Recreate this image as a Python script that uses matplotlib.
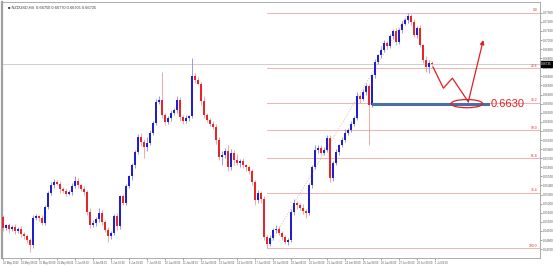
import numpy as np
import matplotlib
matplotlib.use("Agg")
import matplotlib.pyplot as plt
from matplotlib.patches import Ellipse

plt.rcParams['font.family'] = ['Liberation Sans', 'DejaVu Sans']

# H4 closes
first_open = 0.6505
closes = [
    0.6493, 0.6496, 0.6492, 0.6494, 0.6490, 0.6492, 0.6487, 0.6484, 0.6480, 0.6474, 0.6504, 0.6506,
    0.6504, 0.6499, 0.6516, 0.6532, 0.6540, 0.6544, 0.6542, 0.6536, 0.6534, 0.6531, 0.6533, 0.6539,
    0.6545, 0.6540, 0.6536, 0.6533, 0.6511, 0.6496, 0.6499, 0.6503, 0.6510, 0.6500, 0.6491, 0.6484,
    0.6488, 0.6506, 0.6495, 0.6528, 0.6521, 0.6539, 0.6550, 0.6562, 0.6577, 0.6593, 0.6588, 0.6582,
    0.6587, 0.6598, 0.6609, 0.6632, 0.6634, 0.6617, 0.6610, 0.6614, 0.6620, 0.6623, 0.6634, 0.6615,
    0.6611, 0.6614, 0.6616, 0.6660, 0.6656, 0.6652, 0.6633, 0.6617, 0.6612, 0.6608, 0.6604, 0.6590,
    0.6571, 0.6573, 0.6578, 0.6560, 0.6576, 0.6568, 0.6565, 0.6567, 0.6562, 0.6560, 0.6556, 0.6544,
    0.6524, 0.6532, 0.6525, 0.6483, 0.6476, 0.6482, 0.6491, 0.6492, 0.6488, 0.6483, 0.6478, 0.6480,
    0.6511, 0.6521, 0.6518, 0.6515, 0.6512, 0.6510, 0.6540, 0.6560, 0.6579, 0.6581, 0.6576, 0.6579,
    0.6592, 0.6548, 0.6565, 0.6577, 0.6584, 0.6590, 0.6598, 0.6601, 0.6608, 0.6614, 0.6638, 0.6635,
    0.6643, 0.6649, 0.6628, 0.6661, 0.6676, 0.6683, 0.6689, 0.6697, 0.6693, 0.6704, 0.6710, 0.6698,
    0.6711, 0.6718, 0.6722, 0.6726, 0.6720, 0.6705, 0.6713, 0.6694, 0.6678, 0.6670, 0.6675, 0.66735,
]
# wicks in pips above / below the body
up_wick = [
    3, 2, 3, 2, 4, 2, 3, 2, 3, 2, 4, 3,
    2, 3, 3, 2, 4, 3, 2, 3, 2, 3, 2, 4,
    5, 3, 2, 3, 2, 4, 3, 2, 5, 3, 2, 3,
    2, 3, 4, 2, 3, 3, 2, 3, 2, 4, 5, 3,
    6, 3, 2, 3, 4, 31, 3, 2, 3, 2, 4, 3,
    2, 3, 2, 20, 4, 3, 2, 5, 3, 2, 3, 4,
    3, 5, 3, 6, 4, 3, 7, 2, 3, 2, 3, 2,
    2, 3, 2, 3, 2, 3, 2, 4, 3, 2, 3, 2,
    3, 4, 2, 3, 5, 2, 3, 2, 6, 3, 4, 3,
    4, 3, 2, 3, 2, 3, 4, 2, 3, 2, 5, 3,
    3, 4, 3, 2, 3, 2, 4, 3, 2, 3, 2, 3,
    2, 3, 2, 4, 3, 3, 2, 3, 2, 4, 3, 2,
]
lo_wick = [
    3, 2, 4, 2, 3, 2, 4, 3, 3, 7, 3, 2,
    3, 2, 3, 2, 2, 3, 2, 4, 2, 3, 2, 3,
    2, 3, 2, 4, 3, 3, 2, 4, 3, 3, 2, 6,
    3, 2, 4, 3, 2, 3, 2, 4, 3, 2, 5, 12,
    4, 3, 2, 3, 2, 3, 4, 2, 3, 2, 3, 4,
    3, 2, 3, 2, 3, 2, 4, 3, 2, 3, 2, 4,
    3, 8, 3, 4, 3, 6, 3, 5, 3, 4, 3, 4,
    5, 3, 4, 3, 5, 3, 2, 3, 2, 3, 2, 4,
    2, 3, 4, 2, 3, 6, 2, 3, 2, 3, 2, 3,
    2, 4, 3, 2, 3, 2, 2, 3, 2, 3, 2, 4,
    2, 3, 43, 2, 3, 2, 3, 2, 3, 2, 3, 4,
    2, 3, 2, 3, 4, 2, 3, 2, 3, 5, 6, 3,
]
day_labels = ['28 May 2019', '29 May 08:00', '30 May 08:00', '31 May 08:00',
              '3 Jun 08:00', '4 Jun 08:00', '5 Jun 08:00', '6 Jun 08:00', '7 Jun 08:00',
              '10 Jun 08:00', '11 Jun 08:00', '12 Jun 08:00', '13 Jun 08:00', '14 Jun 08:00',
              '17 Jun 08:00', '18 Jun 08:00', '19 Jun 08:00', '20 Jun 08:00', '21 Jun 08:00',
              '24 Jun 08:00', '25 Jun 08:00', '26 Jun 08:00', '27 Jun 08:00', '28 Jun 08:00',
              '1 Jul 08:00']
fib_levels = [0.0, 23.6, 38.2, 50.0, 61.8, 76.4, 100.0]
target = 0.6630
# hand drawn projection path (bar index, price)
path_x = [143.3, 146.7, 149.7, 155.0]
path_y = [0.6670, 0.6647, 0.6658, 0.6632]
arrow_tip = (160.0, 0.6700)

closes = np.array(closes)
opens = np.concatenate([[first_open], closes[:-1]])
highs = np.maximum(opens, closes) + np.array(up_wick) * 0.0001
lows = np.minimum(opens, closes) - np.array(lo_wick) * 0.0001
idx = np.arange(len(closes))

fig = plt.figure(figsize=(5.53, 2.67), dpi=100)
ax = fig.add_axes([2 / 553, 9 / 267, 538 / 553, 256 / 267])

bull = closes >= opens
blue = '#1f1fd0'
red = '#e8262a'
cols = np.where(bull, blue, red)
wick_cols = np.where(bull, '#8a8ae6', '#f09a9a')

ax.vlines(idx, lows, highs, colors=wick_cols, linewidth=0.6, zorder=2)
body = np.maximum(np.abs(closes - opens), 0.00008)
ax.bar(idx, body, bottom=np.minimum(opens, closes), width=0.66, color=cols,
       linewidth=0, zorder=3)

# current price line
last = closes[-1]
ax.axhline(last, color='#c8c8c8', linewidth=0.6, zorder=1)

# fibonacci from the June low to the July high
i_lo = 85 + int(np.argmin(lows[85:]))
i_hi = int(np.argmax(highs))
f_lo, f_hi = lows[i_lo], highs[i_hi]
xmax = 178.9
for lev in fib_levels:
    p = f_hi - (f_hi - f_lo) * lev / 100
    ax.plot([i_lo, xmax], [p, p], color='#f2a3a3', linewidth=0.6, zorder=1)
    ax.text(xmax - 0.8, p + 0.00005, '%.1f' % lev, color='#e03030', fontsize=2.4,
            ha='right', va='bottom')
ax.plot([i_lo, i_hi], [f_lo, f_hi], color='#e8b0b0', linewidth=0.5,
        linestyle=(0, (2, 2)), zorder=1)

# target level
ax.plot([123.3, 161.7], [target, target], color='#4a6ea8', linewidth=2.2, zorder=4)
ax.add_patch(Ellipse((154.5, target), 10.5, 0.0009, fill=False,
                     edgecolor='#e02020', linewidth=0.9, zorder=5))
ax.text(162.6, target, '%.4f' % target, color='#e02020', fontsize=8,
        ha='left', va='center', zorder=5)
ax.plot(path_x, path_y, color='#e02020', linewidth=0.9, zorder=5)
ax.annotate('', xy=arrow_tip, xytext=(path_x[-1], path_y[-1]),
            arrowprops=dict(arrowstyle='-|>', color='#e02020', lw=0.9,
                            mutation_scale=6, shrinkA=0, shrinkB=0), zorder=5)

ax.set_xlim(-0.4, xmax)
ax.set_ylim(0.6744 - 0.00011 * 258, 0.6744 - 0.00011 * 2)

ax.yaxis.tick_right()
yt = np.arange(0.6470, 0.67305, 0.0010)
ax.set_yticks(yt)
ax.set_yticklabels(['%.5f' % v for v in yt], fontsize=2.2, color='#333333')
ax.tick_params(axis='y', length=1.2, width=0.4, pad=0.8, colors='#555555')
ax.set_xticks(np.arange(0, 6 * len(day_labels), 6))
ax.set_xticklabels(day_labels, fontsize=1.9, color='#333333', ha='left')
ax.tick_params(axis='x', length=1.5, width=0.4, pad=1, colors='#555555')

ax.annotate('%.5f' % last, xy=(1.0, last), xycoords=('axes fraction', 'data'),
            xytext=(0.8, 0), textcoords='offset points', fontsize=2.2, color='white',
            va='center', ha='left',
            bbox=dict(boxstyle='square,pad=0.2', fc='black', ec='black'),
            annotation_clip=False)

for s in ax.spines.values():
    s.set_color('#a0a0a0')
    s.set_linewidth(0.6)
ax.spines['left'].set_linewidth(1.6)

ax.text(0.012, 0.985, '\u25a0 NZDUSD,H4  %.5f %.5f %.5f %.5f' % (opens[-1], highs[-1], lows[-1], closes[-1]),
        transform=ax.transAxes, fontsize=2.8, color='#333333', va='top', ha='left')

fig.savefig('out.png', dpi=100)
